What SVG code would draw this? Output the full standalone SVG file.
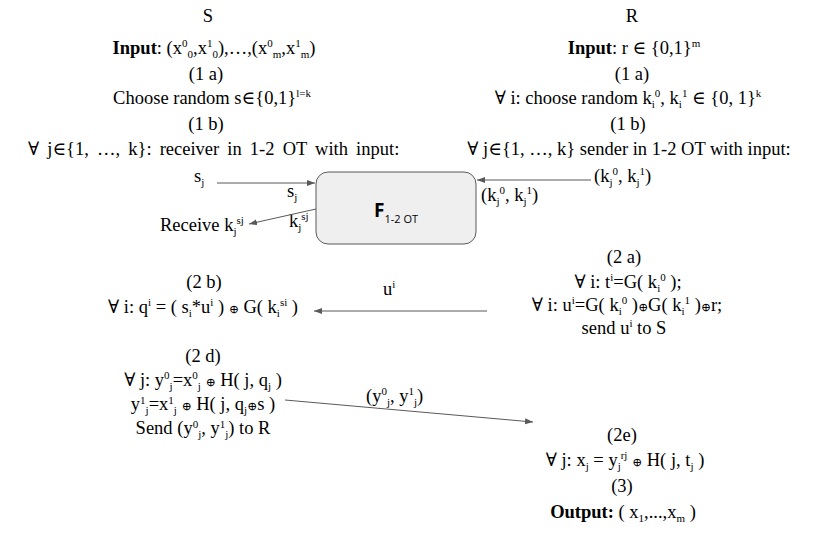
<svg xmlns="http://www.w3.org/2000/svg" width="825" height="540" viewBox="0 0 825 540">
<style>
.t{font-family:"Liberation Serif","DejaVu Serif",serif;font-size:18.5px;fill:#000;text-anchor:middle}
.l{text-anchor:start}
.b{font-size:11px}
.o{font-size:12px}
.bd{font-weight:bold}
.c{stroke:#595959;stroke-width:1;fill:none;marker-end:url(#ah)}
</style>
<defs>
<marker id="ah" markerUnits="userSpaceOnUse" markerWidth="9" markerHeight="7" refX="8" refY="3" orient="auto">
<path d="M0,0 L8,3 L0,6 z" fill="#595959"/>
</marker>
</defs>
<rect width="825" height="540" fill="#fff"/>

<g id="sender-setup">
<text class="t" x="208" y="22">S</text>
<text class="t" x="214" y="54"><tspan class="bd">Input</tspan>: (x<tspan class="b" dy="-7">0</tspan><tspan class="b" dy="11">0</tspan><tspan dy="-4">,x</tspan><tspan class="b" dy="-7">1</tspan><tspan class="b" dy="11">0</tspan><tspan dy="-4">),…,(x</tspan><tspan class="b" dy="-7">0</tspan><tspan class="b" dy="11">m</tspan><tspan dy="-4">,x</tspan><tspan class="b" dy="-7">1</tspan><tspan class="b" dy="11">m</tspan><tspan dy="-4">)</tspan></text>
<text class="t" x="206" y="80">(1 a)</text>
<text class="t" x="212" y="104">Choose random s∈{0,1}<tspan class="b" dy="-7">l=k</tspan></text>
<text class="t" x="206" y="130">(1 b)</text>
<text class="t l" x="28" y="155" word-spacing="3.5">∀ j∈{1, …, k}: receiver in 1-2 OT with input:</text>
</g>

<g id="receiver-setup">
<text class="t" x="632" y="22">R</text>
<text class="t" x="634" y="54"><tspan class="bd">Input</tspan>: r ∈  {0,1}<tspan class="b" dy="-7">m</tspan></text>
<text class="t" x="632" y="80">(1 a)</text>
<text class="t" x="628" y="104">∀ i: choose random k<tspan class="b" dy="4">i</tspan><tspan class="b" dy="-11">0</tspan><tspan dy="7">, k</tspan><tspan class="b" dy="4">i</tspan><tspan class="b" dy="-11">1</tspan><tspan dy="7"> ∈  {0, 1}</tspan><tspan class="b" dy="-7">k</tspan></text>
<text class="t" x="628" y="130">(1 b)</text>
<text class="t" x="629" y="155">∀ j∈{1, …, k} sender in 1-2 OT with input:</text>
<text class="t l" x="594" y="182">(k<tspan class="b" dy="4">j</tspan><tspan class="b" dy="-11">0</tspan><tspan dy="7">, k</tspan><tspan class="b" dy="4">j</tspan><tspan class="b" dy="-11">1</tspan><tspan dy="7">)</tspan></text>
</g>

<g id="ot-functionality">
<rect x="316" y="172" width="160" height="72" rx="12" fill="#efefef" stroke="#595959" stroke-width="1"/>
<text x="374" y="217" font-family="'Open Sans','DejaVu Sans',sans-serif" font-size="19" font-weight="bold" fill="#000">F<tspan font-size="11" font-weight="normal" dy="6">1-2 OT</tspan></text>
</g>

<g id="ot-labels">
<text class="t l" x="194" y="182">s<tspan class="b" dy="4">j</tspan></text>
<text class="t l" x="287" y="197">s<tspan class="b" dy="4">j</tspan></text>
<text class="t l" x="160" y="231">Receive k<tspan class="b" dy="4">j</tspan><tspan class="b" dy="-11">sj</tspan></text>
<text class="t l" x="289" y="227">k<tspan class="b" dy="4">j</tspan><tspan class="b" dy="-11">sj</tspan></text>
<text class="t l" x="481" y="201">(k<tspan class="b" dy="4">j</tspan><tspan class="b" dy="-11">0</tspan><tspan dy="7">, k</tspan><tspan class="b" dy="4">j</tspan><tspan class="b" dy="-11">1</tspan><tspan dy="7">)</tspan></text>
</g>

<g id="receiver-step2a">
<text class="t" x="624" y="263">(2 a)</text>
<text class="t" x="628" y="288">∀ i: t<tspan class="b" dy="-7">i</tspan><tspan dy="7">=G( k</tspan><tspan class="b" dy="4">i</tspan><tspan class="b" dy="-11">0</tspan><tspan dy="7"> );</tspan></text>
<text class="t" x="627" y="311">∀ i:  u<tspan class="b" dy="-7">i</tspan><tspan dy="7">=G( k</tspan><tspan class="b" dy="4">i</tspan><tspan class="b" dy="-11">0</tspan><tspan dy="7"> )</tspan><tspan class="o">⊕</tspan>G( k<tspan class="b" dy="4">i</tspan><tspan class="b" dy="-11">1</tspan><tspan dy="7"> )</tspan><tspan class="o">⊕</tspan>r;</text>
<text class="t" x="624" y="334">send u<tspan class="b" dy="-7">i</tspan><tspan dy="7"> to S</tspan></text>
</g>

<g id="sender-step2b">
<text class="t" x="204" y="288">(2 b)</text>
<text class="t" x="203" y="313">∀ i: q<tspan class="b" dy="-7">i</tspan><tspan dy="7"> = ( s</tspan><tspan class="b" dy="4">i</tspan><tspan dy="-4">*u</tspan><tspan class="b" dy="-7">i</tspan><tspan dy="7"> ) </tspan><tspan class="o">⊕</tspan> G( k<tspan class="b" dy="4">i</tspan><tspan class="b" dy="-11">si</tspan><tspan dy="7"> )</tspan></text>
<text class="t l" x="383" y="295">u<tspan class="b" dy="-7">i</tspan></text>
</g>

<g id="sender-step2d">
<text class="t" x="203" y="362">(2 d)</text>
<text class="t" x="203" y="386">∀ j: y<tspan class="b" dy="-7">0</tspan><tspan class="b" dy="11">j</tspan><tspan dy="-4">=x</tspan><tspan class="b" dy="-7">0</tspan><tspan class="b" dy="11">j</tspan><tspan dy="-4"> </tspan><tspan class="o">⊕</tspan> H( j, q<tspan class="b" dy="4">j</tspan><tspan dy="-4"> )</tspan></text>
<text class="t" x="203" y="410">y<tspan class="b" dy="-6">1</tspan><tspan class="b" dy="10">j</tspan><tspan dy="-4">=x</tspan><tspan class="b" dy="-6">1</tspan><tspan class="b" dy="10">j</tspan><tspan dy="-4"> </tspan><tspan class="o">⊕</tspan> H( j, q<tspan class="b" dy="4">j</tspan><tspan class="o" dy="-4">⊕</tspan>s )</text>
<text class="t" x="203" y="434">Send (y<tspan class="b" dy="-6">0</tspan><tspan class="b" dy="10">j</tspan><tspan dy="-4">, y</tspan><tspan class="b" dy="-6">1</tspan><tspan class="b" dy="10">j</tspan><tspan dy="-4">) to R</tspan></text>
<text class="t l" x="366" y="402">(y<tspan class="b" dy="-7">0</tspan><tspan class="b" dy="11">j</tspan><tspan dy="-4">, y</tspan><tspan class="b" dy="-7">1</tspan><tspan class="b" dy="11">j</tspan><tspan dy="-4">)</tspan></text>
</g>

<g id="receiver-step2e">
<text class="t" x="622" y="441">(2e)</text>
<text class="t" x="625" y="466">∀ j: x<tspan class="b" dy="4">j</tspan><tspan dy="-4"> = y</tspan><tspan class="b" dy="4">j</tspan><tspan class="b" dy="-11">rj</tspan><tspan dy="7">  </tspan><tspan class="o">⊕</tspan> H( j, t<tspan class="b" dy="4">j</tspan><tspan dy="-4"> )</tspan></text>
<text class="t" x="622" y="492">(3)</text>
<text class="t" x="623" y="518"><tspan class="bd">Output:</tspan> ( x<tspan class="b" dy="4">1</tspan><tspan dy="-4">,...,x</tspan><tspan class="b" dy="4">m</tspan><tspan dy="-4"> )</tspan></text>
</g>

<g id="connectors">
<path class="c" d="M217,183 L315,183"/>
<path class="c" d="M591,180 L477,180"/>
<path class="c" d="M316,209 L249,224"/>
<path class="c" d="M487,311 L314,311"/>
<path class="c" d="M285,400 L533,422"/>
</g>
</svg>
